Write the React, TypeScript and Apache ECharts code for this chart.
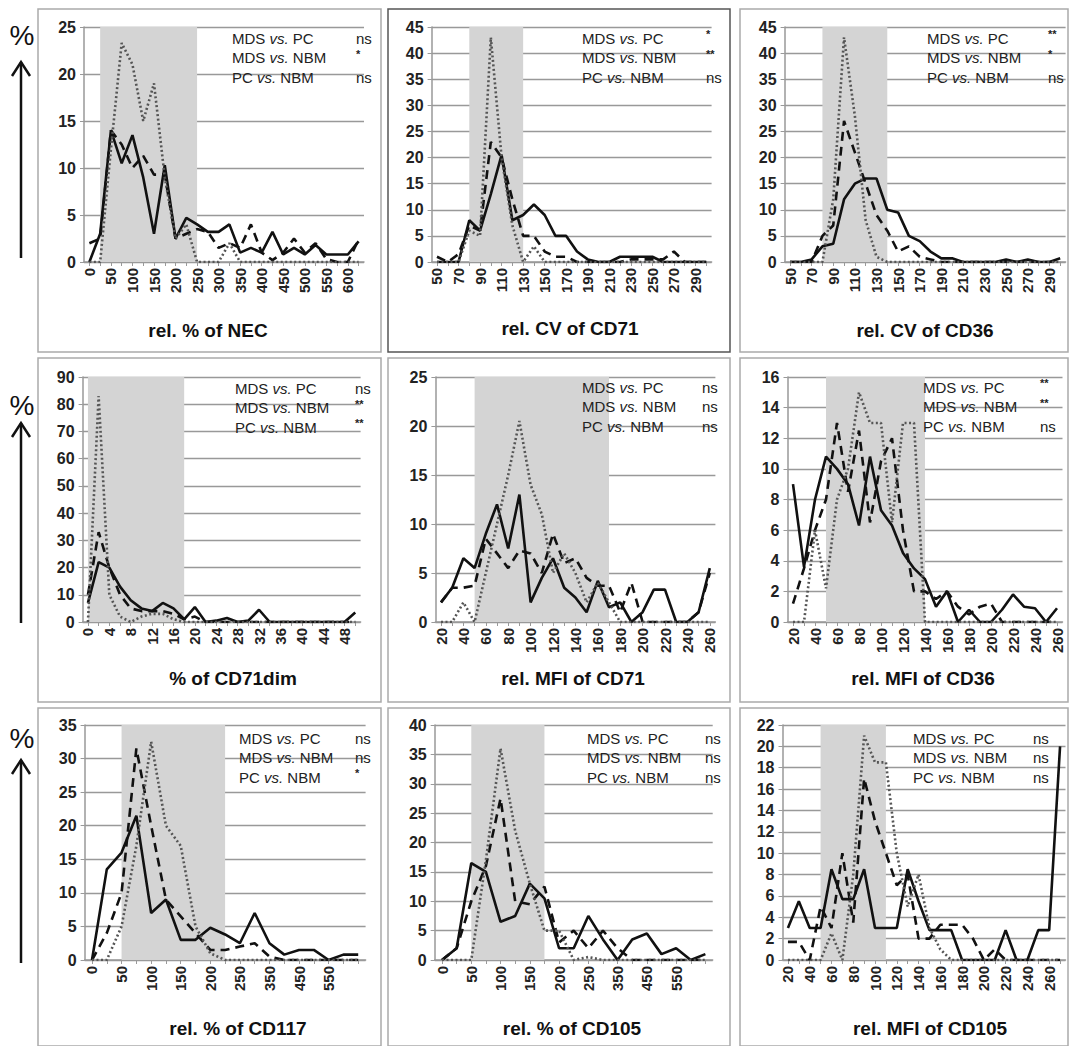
import React, { useEffect, useRef } from "react";
import * as echarts from "echarts";

// ---- categories ----
const catNEC = ["0","25","50","75","100","125","150","175","200","225","250","275","300","325","350","375","400","425","450","475","500","525","550","575","600","625"];
const catCV = ["50","60","70","80","90","100","110","120","130","140","150","160","170","180","190","200","210","220","230","240","250","260","270","280","290","300"];
const catDim = ["0","2","4","6","8","10","12","14","16","18","20","22","24","26","28","30","32","34","36","38","40","42","44","46","48","50"];
const catMFI = ["20","30","40","50","60","70","80","90","100","110","120","130","140","150","160","170","180","190","200","210","220","230","240","250","260"];
const catRel = ["0","25","50","75","100","125","150","175","200","225","250","300","350","400","450","500","550","600","650"];
const catMFI105 = ["20","30","40","50","60","70","80","90","100","110","120","130","140","150","160","170","180","190","200","210","220","230","240","250","260","270"];

// ---- series values (MDS solid, PC dashed, NBM dotted) ----
const necMDS = [0,3,14,10.5,13.5,9,3,10.3,2.5,4.7,4,3.2,3.2,4,1,1.5,1,3.2,0.8,1.5,0.8,1.8,0.8,0.8,0.8,2.2];
const necPC = [2,2.5,14,12.5,10,11.3,9.3,9.3,2.5,3,3.5,3.2,1.5,2,1.5,4,1,0.2,1,2.5,1,2,0.3,0,0,2.4];
const necNBM = [0,0,12,23.3,21,15,19,9,2.5,4,0,0,0,2,0,0,0,0,0,0,0,0,0,0,0,0];

const cv71MDS = [0,0,0,8,6,13,20.5,8,9,11,9,5,5,2,0.5,0,0,1,1,1,1,0,0,0,0,0];
const cv71PC = [1,0,1.5,7,6,23,20,12,5,5,2,1,1,0,0,0,0,0,0.5,0.5,0.5,0.5,2,0,0,0];
const cv71NBM = [0,0,0,6,5,43,20,7,0,3,0,0,0,0,0,0,0,0,0,0,0,0,0,0,0,0];

const cv36MDS = [0,0,0.5,3,3.5,12,15,16,16,10,9.5,5,4,2,0.7,0.7,0,0,0,0,0.5,0,0.5,0,0,0.7];
const cv36PC = [0,0,0,5,7,27,21,15,9,6,2,3,1,0.5,0,0,0,0,0,0,0,0,0,0,0,0];
const cv36NBM = [0,0,0,0,12,43,28,8,1,0,0,0,0,0,0,0,0,0,0,0,0,0,0,0,0,0];

const dimMDS = [7,22,20,13,8,5,4,7,5,1,5.5,0,0.5,1.5,0,0.5,4.5,0,0,0,0,0,0,0,0,3.5];
const dimPC = [10,33,20,10,5,4,4,4,3,1,2,0,0,0,0,0,0,0,0,0,0,0,0,0,0,0];
const dimNBM = [0,83,10,2,0,2,3,3,1,0,0,0,0,0,0,0,0,0,0,0,0,0,0,0,0,0];

const mfi71MDS = [2,3.5,6.5,5.5,9,12,7.5,13,2,4.5,6.5,3.5,2.5,1,4.2,1.5,2,0,1,3.3,3.3,0,0,1,5.5];
const mfi71PC = [2,3.5,3.5,3.7,8.5,7,5.5,7.3,7,5,9,6,6.5,4.5,3.7,3.7,1,4,0,0,0,0,0,1,5];
const mfi71NBM = [0,0,2,0,5,10,15,20.5,14,11,5,7,5,2,4,2,0,0,0,0,0,0,0,0,0];

const mfi36MDS = [9,3.6,8,10.8,10,9,6.3,10.8,7.3,6.3,4.5,3.5,2.8,1,2,0,0.8,0,0,0.8,1.8,1,0.9,0,0.9];
const mfi36PC = [1.2,3.5,6,8,13,8.5,12.5,6.5,10.5,12,6,2,2,1.5,2,1,0.5,1,1.2,0,0,0,0,0,0];
const mfi36NBM = [0,0,6,2.2,8,10,15,13,13,6.5,13,13,0,0,0,0,0,0,0,0,0,0,0,0,0];

const cd117MDS = [0,13.5,16,21.5,7,9,3,3,4.8,3.8,2.5,7,2.5,0.8,1.5,1.5,0,0.8,0.8];
const cd117PC = [0,4,10,31.5,20,9,6.5,4,1.5,1.5,2,2.5,0.5,0,0,0,0,0,0];
const cd117NBM = [0,0,5,17,32.5,20,17,5,1,0,0,0,0,0,0,0,0,0,0];

const cd105MDS = [0,2,16.5,15,6.5,7.5,13,10.5,2,2,7.5,3.5,0,3.5,4.5,1,2,0,1];
const cd105PC = [0,2,10,16,27.5,10,9.5,12.5,3,5,2,5,2,0,0,0,0,0,0];
const cd105NBM = [0,0,0,17,36,22,13,5,5,0,0.5,0,0,0,0,0,0,0,0];

const mfi105MDS = [3,5.5,3,3,8.5,5.7,5.7,8.5,3,3,3,8.5,5.5,2.8,2.8,2.8,0,0,0,0,2.8,0,0,2.8,2.8,20];
const mfi105PC = [1.7,1.7,0,5,3,10,3.5,17,13,10,7,8,2,2,3.3,3.3,3.3,2,0,1,0,0,0,0,0,0];
const mfi105NBM = [0,0,0,0,2.5,0,8,21,18.5,18.5,10,5,8,3,1,0,0,0,0,0,0,0,0,0,0,0];

// ---- titles / tests ----
const xTitles = ["rel. % of NEC","rel. CV of CD71","rel. CV of CD36","% of CD71dim","rel. MFI of CD71","rel. MFI of CD36","rel. % of CD117","rel. % of CD105","rel. MFI of CD105"];
const comparisons = [["MDS ","PC"],["MDS ","NBM"],["PC ","NBM"]];
const significance = [["ns","*","ns"],["*","**","ns"],["**","*","ns"],["ns","**","**"],["ns","ns","ns"],["**","**","ns"],["ns","ns","*"],["ns","ns","ns"],["ns","ns","ns"]];
const yMax = [25,45,45,90,25,16,35,40,22];
const yStep = [5,5,5,10,5,2,5,5,2];

const panels = [
  { cats: catNEC, s: [necMDS, necPC, necNBM], band: [1, 10.05], grid: [84, 27, 280, 235], leg: [232, 38, 356], title: [208, 330] },
  { cats: catCV, s: [cv71MDS, cv71PC, cv71NBM], band: [3.35, 8.37], grid: [431.6, 27, 280, 235], leg: [582, 38, 706], title: [570, 328] },
  { cats: catCV, s: [cv36MDS, cv36PC, cv36NBM], band: [2.87, 9.35], grid: [784.6, 27, 281, 235], leg: [927, 38, 1048], title: [925, 330] },
  { cats: catDim, s: [dimMDS, dimPC, dimNBM], band: [-0.5, 8.8], grid: [82.6, 377, 278, 245], leg: [235, 388, 355], title: [233, 678] },
  { cats: catMFI, s: [mfi71MDS, mfi71PC, mfi71NBM], band: [3.1, 14.7], grid: [435.4, 377, 280, 245], leg: [582, 387, 702], title: [573, 678] },
  { cats: catMFI, s: [mfi36MDS, mfi36PC, mfi36NBM], band: [3.1, 11.9], grid: [787.5, 377, 275, 245], leg: [923, 387, 1040], title: [923, 678] },
  { cats: catRel, s: [cd117MDS, cd117PC, cd117NBM], band: [1.6, 8.65], grid: [84.6, 725, 281, 235], leg: [239, 738, 355], title: [238, 1028] },
  { cats: catRel, s: [cd105MDS, cd105PC, cd105NBM], band: [2.0, 7.1], grid: [434.7, 725, 278, 235], leg: [587, 738, 705], title: [572, 1028] },
  { cats: catMFI105, s: [mfi105MDS, mfi105PC, mfi105NBM], band: [3.3, 9.4], grid: [782.5, 725, 283, 235], leg: [913, 738, 1033], title: [930, 1028] },
];

const boxes = [
  [38, 9, 343, 343], [388, 9, 342, 343], [740, 9, 328, 343],
  [38, 358, 343, 344], [388, 358, 342, 344], [740, 358, 328, 344],
  [38, 708, 343, 338], [388, 708, 342, 338], [740, 708, 328, 338],
];
const arrows = [[35, 62, 258], [405, 423, 623], [738, 760, 963]];

const FONT = "Liberation Sans, Arial, sans-serif";

export default function App() {
  const ref = useRef<HTMLDivElement>(null);
  useEffect(() => {
    const chart = echarts.init(ref.current!, null, { renderer: "svg" });
    const grid: any[] = [], xAxis: any[] = [], yAxis: any[] = [], series: any[] = [], graphic: any[] = [];
    boxes.forEach((b, i) => graphic.push({ type: "rect", shape: { x: b[0], y: b[1], width: b[2], height: b[3] }, style: { fill: "none", stroke: i === 1 ? "#555" : "#aaa", lineWidth: 1.5 }, z: -1 }));
    arrows.forEach((a) => {
      graphic.push({ type: "text", x: 22, y: a[0], style: { text: "%", font: `28px ${FONT}`, fill: "#111", align: "center", verticalAlign: "middle" } });
      graphic.push({ type: "line", shape: { x1: 21, y1: a[1], x2: 21, y2: a[2] }, style: { stroke: "#111", lineWidth: 2.5 } });
      graphic.push({ type: "polyline", shape: { points: [[12, a[1] + 14], [21, a[1]], [30, a[1] + 14]] }, style: { stroke: "#111", lineWidth: 2.5, fill: "none" } });
    });
    panels.forEach((p, i) => {
      grid.push({ left: p.grid[0], top: p.grid[1], width: p.grid[2], height: p.grid[3] });
      xAxis.push({
        type: "category", gridIndex: i, data: p.cats, boundaryGap: true,
        axisLine: { lineStyle: { color: "#999", width: 1.5 } },
        axisTick: { show: true, interval: 0, alignWithLabel: true, length: 4, lineStyle: { color: "#999" } },
        axisLabel: { interval: 1, rotate: 90, fontFamily: FONT, fontWeight: "bold", fontSize: 15, color: "#222", margin: 6,
          formatter: (v: string) => (v === "650" ? "" : v) },
      });
      yAxis.push({
        type: "value", gridIndex: i, min: 0, max: yMax[i], interval: yStep[i],
        axisLine: { show: true, lineStyle: { color: "#999", width: 1.5 } },
        axisTick: { show: true, length: 4, lineStyle: { color: "#999" } },
        splitLine: { lineStyle: { color: "#999", width: 1.3 } },
        axisLabel: { fontFamily: FONT, fontWeight: "bold", fontSize: 16, color: "#222", margin: 8 },
      });
      const styles = [
        { color: "#111", width: 2.6, type: "solid" },
        { color: "#111", width: 2.6, type: [9, 6] },
        { color: "#555", width: 2.6, type: [2, 2.5] },
      ];
      p.s.forEach((d, k) => {
        const ser: any = {
          type: "line", xAxisIndex: i, yAxisIndex: i, data: d, symbol: "none", silent: true,
          lineStyle: styles[k], z: 3 + k,
        };
        if (k === 0) {
          ser.markArea = { silent: true, itemStyle: { color: "#d4d4d4" }, data: [[{ xAxis: p.band[0] }, { xAxis: p.band[1] }]], z: 1 };
        }
        series.push(ser);
      });
      comparisons.forEach((c, r) => {
        const y = p.leg[1] + r * 19.5;
        graphic.push({ type: "text", x: p.leg[0], y, z: 10, style: {
          text: `{a|${c[0]}}{i|vs.}{a| ${c[1]}}`, verticalAlign: "middle",
          rich: { a: { font: `15px ${FONT}`, fill: "#222" }, i: { font: `italic 15px ${FONT}`, fill: "#222" } } } });
        const sig = significance[i][r];
        graphic.push({ type: "text", x: p.leg[2], y: sig === "ns" ? y : y - 4, z: 10, style: {
          text: sig, font: sig === "ns" ? `15px ${FONT}` : `bold 11px ${FONT}`, fill: "#222", verticalAlign: "middle" } });
      });
      graphic.push({ type: "text", x: p.title[0], y: p.title[1], style: { text: xTitles[i], font: `bold 19px ${FONT}`, fill: "#111", align: "center", verticalAlign: "middle" } });
    });
    chart.setOption({ animation: false, backgroundColor: "#fff", grid, xAxis, yAxis, series, graphic });
    return () => chart.dispose();
  }, []);
  return <div ref={ref} style={{ position: "fixed", left: 0, top: 0, width: 1070, height: 1046 }} />;
}
